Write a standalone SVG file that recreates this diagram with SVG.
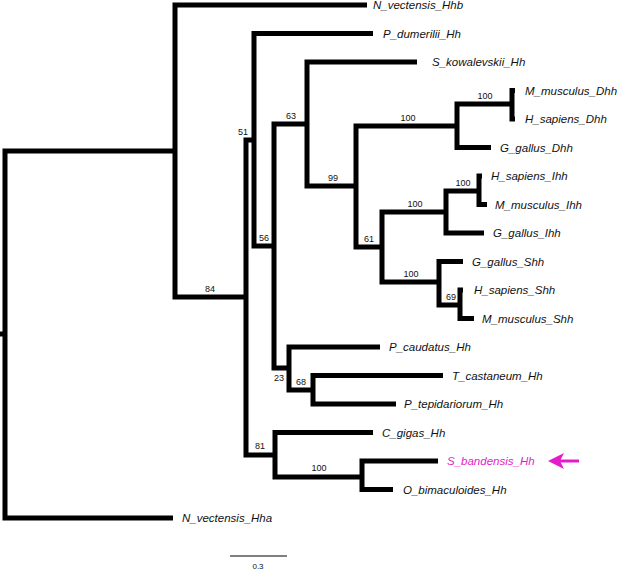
<svg xmlns="http://www.w3.org/2000/svg" width="617" height="570" viewBox="0 0 617 570">
<style>
.br{fill:none;stroke:#000;stroke-width:5;stroke-linejoin:miter;stroke-linecap:butt}
.lf{font-family:"Liberation Sans",Arial,sans-serif;font-style:italic;font-size:11.5px;fill:#111}
.bs{font-family:"Liberation Sans",Arial,sans-serif;font-size:9px;fill:#111;text-anchor:middle}
.hl{fill:#e31ccb}
</style>
<rect width="617" height="570" fill="#fff"/>
<g id="connectors">
<path class="br" d="M0,334 H5"/>
<path class="br" d="M175,151 H5 V518 H173"/>
<path class="br" d="M367,5 H175 V297 H246"/>
<path class="br" d="M254,140 H246 V455 H275"/>
<path class="br" d="M373,33.5 H254 V246 H274"/>
<path class="br" d="M307,124 H274 V368 H289"/>
<path class="br" d="M417,62 H307 V186 H356"/>
<path class="br" d="M457,126 H356 V247 H382"/>
<path class="br" d="M512,104 H457 V147.5 H491"/>
<path class="br" d="M515,90.5 H512 V119 H515"/>
<path class="br" d="M446,212 H382 V282 H439"/>
<path class="br" d="M479,191 H446 V233 H484"/>
<path class="br" d="M482,176 H479 V204.5 H487"/>
<path class="br" d="M463,261.5 H439 V305 H460"/>
<path class="br" d="M463,290 H460 V318.5 H474"/>
<path class="br" d="M380,347 H289 V390 H313"/>
<path class="br" d="M443,375.5 H313 V404 H396"/>
<path class="br" d="M373,432.5 H275 V477 H362"/>
<path class="br" d="M438,461 H362 V489.5 H393"/>
</g>
<g id="leaves">
<g id="n_vectensis_hhb"><text class="lf" x="373" y="9">N_vectensis_Hhb</text></g>
<g id="p_dumerilii_hh"><text class="lf" x="383" y="37.5">P_dumerilii_Hh</text></g>
<g id="s_kowalevskii_hh"><text class="lf" x="432" y="66">S_kowalevskii_Hh</text></g>
<g id="m_musculus_dhh"><text class="lf" x="525" y="94.5">M_musculus_Dhh</text></g>
<g id="h_sapiens_dhh"><text class="lf" x="525" y="123">H_sapiens_Dhh</text></g>
<g id="g_gallus_dhh"><text class="lf" x="500" y="151.5">G_gallus_Dhh</text></g>
<g id="h_sapiens_ihh"><text class="lf" x="491" y="180">H_sapiens_Ihh</text></g>
<g id="m_musculus_ihh"><text class="lf" x="495" y="208.5">M_musculus_Ihh</text></g>
<g id="g_gallus_ihh"><text class="lf" x="493" y="237">G_gallus_Ihh</text></g>
<g id="g_gallus_shh"><text class="lf" x="472" y="265.5">G_gallus_Shh</text></g>
<g id="h_sapiens_shh"><text class="lf" x="474" y="294">H_sapiens_Shh</text></g>
<g id="m_musculus_shh"><text class="lf" x="482" y="322.5">M_musculus_Shh</text></g>
<g id="p_caudatus_hh"><text class="lf" x="389" y="351">P_caudatus_Hh</text></g>
<g id="t_castaneum_hh"><text class="lf" x="452" y="379.5">T_castaneum_Hh</text></g>
<g id="p_tepidariorum_hh"><text class="lf" x="404" y="408">P_tepidariorum_Hh</text></g>
<g id="c_gigas_hh"><text class="lf" x="382" y="436.5">C_gigas_Hh</text></g>
<g id="s_bandensis_hh"><text class="lf hl" x="447" y="465">S_bandensis_Hh</text></g>
<g id="o_bimaculoides_hh"><text class="lf" x="403" y="493.5">O_bimaculoides_Hh</text></g>
<g id="n_vectensis_hha"><text class="lf" x="182" y="522">N_vectensis_Hha</text></g>
</g>
<g id="support">
<text class="bs" x="210" y="292">84</text>
<text class="bs" x="243" y="135">51</text>
<text class="bs" x="264" y="241">56</text>
<text class="bs" x="291" y="119">63</text>
<text class="bs" x="333" y="181">99</text>
<text class="bs" x="408" y="121">100</text>
<text class="bs" x="485" y="99">100</text>
<text class="bs" x="369" y="242">61</text>
<text class="bs" x="415" y="207">100</text>
<text class="bs" x="463" y="186">100</text>
<text class="bs" x="411" y="277">100</text>
<text class="bs" x="451" y="300">69</text>
<text class="bs" x="279" y="381">23</text>
<text class="bs" x="301" y="385">68</text>
<text class="bs" x="260" y="449">81</text>
<text class="bs" x="319" y="471">100</text>
</g>
<g id="arrow">
<line x1="560" y1="461" x2="579" y2="461" stroke="#e31ccb" stroke-width="3"/>
<polygon points="548,461 564,453 560,461 564,469" class="hl"/>
</g>
<g id="scale">
<line x1="230" y1="556" x2="287" y2="556" stroke="#000" stroke-width="1"/>
<text class="bs" x="258" y="569" style="font-size:8px">0.3</text>
</g>
</svg>
